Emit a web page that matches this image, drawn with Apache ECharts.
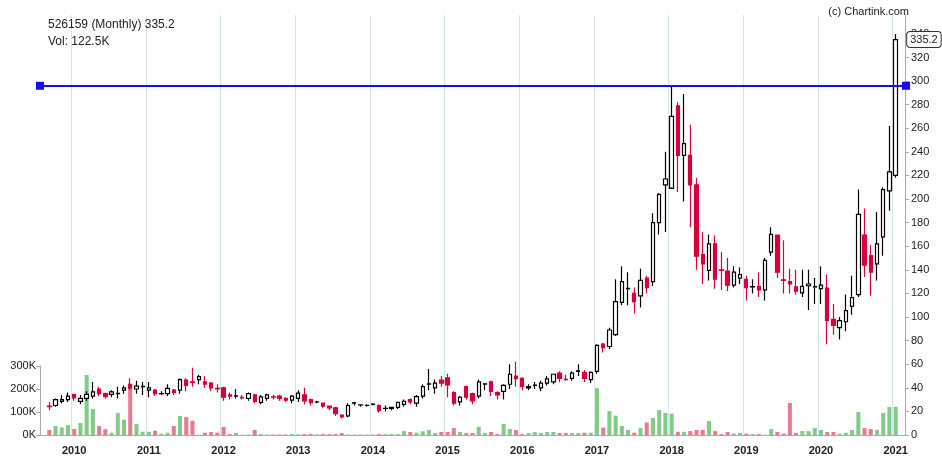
<!DOCTYPE html>
<html>
<head>
<meta charset="utf-8">
<script src="https://cdn.jsdelivr.net/npm/echarts@6/dist/echarts.min.js"></script>
<style>
html,body{margin:0;padding:0;background:#fff;}
#chart{width:942px;height:465px;}
</style>
</head>
<body>
<div id="chart"></div>
<script>
// 月线数据，2009-09 起
var openArr = [24.5,25,28.5,30,34.5,28.5,31,33,39,35, 34.5,35,38,43,39,41,38,38,35,35,
    38,38,46.5,45,47,45,44,39.5,40,34, 33,32,31,34,27.7,31,32.3,33,31,29.5,
    31,34,30,28,27,24.5,23,16.8,16.2,27, 25.5,25,26,25,22.5,22.6,23.5,26,30,27,
    33,43,40,46.5,48.5,36,28,41,35,33, 43,45,36,37,43,50,48,40,42,40,
    44,45,52.5,47.2,48,54,53,47,54,77, 75,85,112.5,124,120,118,133,130,180,212,
    209,279,237,237,212,153,139.5,162,140,139, 127,133,132,125.5,126,123,155,169.5,131.5,130,
    125.5,120.5,126.5,125.5,124,124.5,98,91,96,109, 119,169.5,152,145,168,207,220];
var closeArr = [24,30,30,33,31.5,31,34.5,36.5,35,32.5, 36.5,35.3,40,40,41.5,41.2,40,35,35.1,39.5,
    36,47,42,44.5,49.5,43,40,39,32,33, 33.2,31.5,35,28.5,32.3,34,32,31,29.5,33,
    35.5,29,27.5,28.2,24.5,23,18,15.4,25,27.3, 25.6,25.1,26.1,20.7,22.6,23.4,27.6,28.6,28,32.5,
    41,43.3,44,44,42.5,27,32,32,29,45, 43.3,37,34,42,51.5,47.8,41,41,42.3,44,
    47.5,51.5,48,47,52.5,54.3,48,53,76,74, 89,113,130,124.3,113,131,125,180,204,217,
    270,237,247,212,151.5,145,162,132,139.5,127, 138,136,125,125.7,123,148,170,138,131,128,
    122,126,128,125.7,127,97,93,97,105.5,116.5, 187,144,138,162,208,223,335.2];
var lowArr = [21,24,27,28,29,26,29,31,33,31, 32,31,35,38,35,34,32,33,34,33,
    34,35,37,41,43,40,37,36,29,30, 31,30,29,27,26,29,30,29,28,27,
    28,26,25,27,23,21,16,14,15,25, 24,24,25,19,20,21,22,24,26,24,
    31,38,35,41,32,25,25,30,26,31, 38,33,30,30,39,41,38,38,39,37,
    42,43,45,46,46,50,45,44,52,70, 73,84,110,110,103,108,120,126,170,172,
    210,206,198,176,140,128,131,124,123,122, 125,128,114,120,117,114,152,133,120,120,
    119,117,106,111,111,77,85,81,88,102, 117,134,118,131,152,190,218];
var highArr = [28,31,34,36,35,34,37,45,41,36, 38,41,42,48,46,45,45,39,37,43,
    39,48,48,57,51,50,45,43,41,36, 39,34,36,35,34,35,34,34,32,34,
    38,40,31,29,27,25,24,17.5,27,28, 26,26,27,26,25,24,28,30,31,34,
    43,56,47,50,52,37,33,42,36,47, 44,46,37,43,60,62,49,43,45,46,
    50,52,54,51,54,60,55,54,77,78, 91,132,143,138,125,141,135,188,205,240,
    296,282,289,263,218,172,170,169,155,150, 143,142,135,132,138,150,176,168,165,141,
    140,140,140,133,143,136,111,100,119,135, 208,192,161,189,210,262,340];
// 成交量 (K)
var volArr = [22,39,33,43,26,52,261,113,39,25, 10,96,67,206,48,14,14,19,6,10,
    39,83,78,62,1,10,13,10,35,4, 9,1,2,22,4,2,2,2,2,4,
    3,4,5,3,4,4,4,9,2,2, 2,2,2,4,4,4,4,17,13,10,
    16,22,9,13,13,30,13,9,9,35, 9,13,4,48,26,22,4,9,13,9,
    13,13,9,9,9,9,10,10,204,32, 104,84,39,22,10,30,54,74,109,96,
    93,14,14,17,22,22,61,17,4,13, 6,9,6,4,4,1,26,13,6,139,
    9,17,17,30,22,13,13,6,10,22, 100,30,26,22,96,122,122.5];
var resistance = 296;
var lastPrice = 335.2;

// 两端各留一个空位
var months = [''];
for (var i = 0; i < openArr.length; i++) {
    var m = 8 + i;
    var y = 2009 + Math.floor(m / 12);
    var mm = (m % 12) + 1;
    months.push(y + '-' + (mm < 10 ? '0' + mm : mm));
}
months.push(' ');
function isJan(idx) { return months[idx].slice(5) === '01'; }

var kData = ['-'], volData = ['-'];
for (var i = 0; i < openArr.length; i++) {
    kData.push([openArr[i], closeArr[i], lowArr[i], highArr[i]]);
    var up = closeArr[i] >= openArr[i];
    volData.push({value: volArr[i] * 1000, itemStyle: {color: up ? '#82cc87' : '#e97a90'}});
}
kData.push('-'); volData.push('-');
var lastIdx = openArr.length;

var chart = echarts.init(document.getElementById('chart'));
chart.setOption({
    animation: false,
    backgroundColor: '#fff',
    textStyle: {fontFamily: 'Liberation Sans, Arial, sans-serif'},
    title: [
        {text: '526159 (Monthly) 335.2', left: 43, top: 14, textStyle: {fontSize: 12, fontWeight: 'normal', color: '#222'}},
        {text: 'Vol: 122.5K', left: 43, top: 31, textStyle: {fontSize: 12, fontWeight: 'normal', color: '#222'}},
        {text: '(c) Chartink.com', right: 28, top: 1, textStyle: {fontSize: 11, fontWeight: 'normal', color: '#222'}}
    ],
    grid: [
        {left: 40, right: 37, top: 15, bottom: 30},
        {left: 40, right: 37, top: 366, bottom: 30}
    ],
    xAxis: [
        {type: 'category', data: months, gridIndex: 0, boundaryGap: true,
         axisLine: {lineStyle: {color: '#aaa'}},
         axisTick: {interval: function (i) { return isJan(i); }, alignWithLabel: true, length: 5, lineStyle: {color: '#999'}},
         axisLabel: {interval: function (i) { return isJan(i); }, formatter: function (v) { return v.slice(0, 4); },
                     fontSize: 11, fontWeight: 'bold', color: '#222', margin: 10},
         splitLine: {show: true, interval: function (i) { return isJan(i); }, lineStyle: {color: '#d3e7ef'}}},
        {type: 'category', data: months, gridIndex: 1, boundaryGap: true,
         axisLine: {show: false}, axisTick: {show: false}, axisLabel: {show: false}}
    ],
    yAxis: [
        {type: 'value', gridIndex: 0, position: 'right', min: 0, max: 356, interval: 20,
         axisLine: {show: true, lineStyle: {color: '#aaa'}},
         axisTick: {show: true, length: 4, lineStyle: {color: '#aaa'}},
         axisLabel: {fontSize: 11, color: '#222', margin: 6, showMaxLabel: false},
         splitLine: {show: false}},
        {type: 'value', gridIndex: 1, position: 'left', min: 0, max: 300000, interval: 100000,
         axisLine: {show: true, lineStyle: {color: '#aaa'}},
         axisTick: {show: true, length: 4, lineStyle: {color: '#aaa'}},
         axisLabel: {fontSize: 11, color: '#222', margin: 4, formatter: function (v) { return (v / 1000) + 'K'; }},
         splitLine: {show: false}}
    ],
    series: [
        {type: 'bar', xAxisIndex: 1, yAxisIndex: 1, data: volData, barWidth: '65%', z: 1},
        {type: 'candlestick', xAxisIndex: 0, yAxisIndex: 0, data: kData, barWidth: '62%', z: 3,
         itemStyle: {color: '#ffffff', color0: '#d6003a', borderColor: '#000', borderColor0: '#d6003a', borderWidth: 1.2},
         markLine: {
             silent: true, symbol: ['rect', 'rect'], symbolSize: [8, 8],
             label: {show: false},
             lineStyle: {color: '#1010e8', width: 2, type: 'solid'},
             itemStyle: {color: '#8080f0'},
             data: [[{coord: [0, resistance], x: 40}, {coord: [months.length - 1, resistance], x: 906}]]
         },
         markPoint: {
             symbol: 'rect', symbolSize: 1, itemStyle: {color: 'transparent'},
             data: [{coord: [lastIdx, lastPrice],
                     label: {show: true, formatter: '335.2', position: 'right', offset: [6, 0], fontSize: 11, color: '#222',
                             backgroundColor: '#fff', borderColor: '#333', borderWidth: 1, borderRadius: 3, padding: [2, 3]}}]
         }}
    ]
});
</script>
</body>
</html>
